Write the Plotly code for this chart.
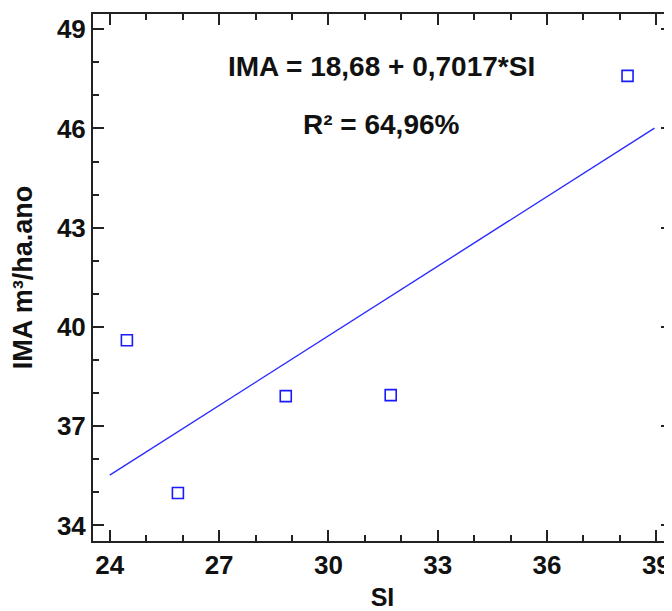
import plotly.graph_objects as go

si_values = [24.47, 25.87, 28.83, 31.71, 38.21]
ima_values = [39.6, 34.98, 37.91, 37.94, 47.59]

# Fitted line endpoints (IMA = 18,68 + 0,7017*SI)
fit_si = [24.0, 38.95]
fit_ima = [35.52, 46.01]

x_ticks = [24, 27, 30, 33, 36, 39]
y_ticks = [34, 37, 40, 43, 46, 49]

equation_text = "IMA = 18,68 + 0,7017*SI"
r2_text = "R² = 64,96%"

FONT = "Liberation Sans, Arial, sans-serif"

fig = go.Figure()
fig.add_trace(go.Scatter(
    x=fit_si, y=fit_ima, mode="lines",
    line=dict(color="#2b2bff", width=1.4),
    showlegend=False, hoverinfo="skip"))
fig.add_trace(go.Scatter(
    x=si_values, y=ima_values, mode="markers",
    marker=dict(symbol="square-open", size=11, color="#1a1aff",
                line=dict(width=1.6, color="#1a1aff")),
    showlegend=False))

axis_common = dict(
    showgrid=False, zeroline=False,
    showline=True, linecolor="#222222", linewidth=2, mirror="allticks",
    ticks="inside", ticklen=11, tickwidth=2, tickcolor="#222222",
    tickfont=dict(family=FONT, size=26, color="#111111", weight="bold"),
    minor=dict(ticks="inside", ticklen=6, tickwidth=2, tickcolor="#222222", dtick=1),
)

fig.update_xaxes(
    range=[23.54, 39.43], tickvals=x_ticks,
    title=dict(text="SI", font=dict(family=FONT, size=25, color="#111111", weight="bold"),
               standoff=22),
    **axis_common)
fig.update_yaxes(
    range=[33.53, 49.46], tickvals=y_ticks,
    title=dict(text="IMA m³/ha.ano", font=dict(family=FONT, size=27, color="#111111", weight="bold"),
               standoff=17),
    **axis_common)

fig.add_annotation(x=31.45, y=47.86, xref="x", yref="y", text=equation_text,
                   showarrow=False, xanchor="center", yanchor="middle",
                   font=dict(family=FONT, size=28, color="#111111", weight="bold"))
fig.add_annotation(x=31.45, y=46.13, xref="x", yref="y", text=r2_text,
                   showarrow=False, xanchor="center", yanchor="middle",
                   font=dict(family=FONT, size=28, color="#111111", weight="bold"))

# The page body adds an 8px offset; the figure is sized to fit the 672x611 window.
fig.update_layout(
    width=664, height=603,
    margin=dict(l=85, r=0, t=6, b=70, autoexpand=False),
    paper_bgcolor="white", plot_bgcolor="white",
)

fig.write_html("out.html")
